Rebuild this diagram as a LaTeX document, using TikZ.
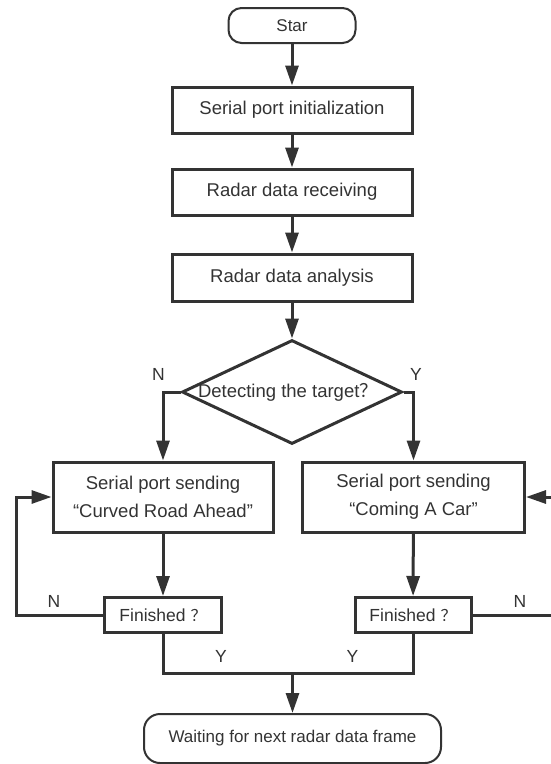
\documentclass[tikz,border=0pt]{standalone}
\usepackage{fontspec}
\setmainfont{Liberation Sans}
\newfontfamily\cjkfont{Noto Sans CJK SC}
\usetikzlibrary{shapes.geometric,arrows.meta}
\definecolor{ink}{HTML}{333333}
\begin{document}
\begin{tikzpicture}[x=1pt,y=-1pt,
  every node/.style={text=ink},
  box/.style={draw=ink, line width=3pt, rectangle, inner sep=0pt,
    font=\fontsize{18.5}{28}\selectfont, align=center},
  term/.style={draw=ink, line width=2pt, rectangle, rounded corners=13pt,
    inner sep=0pt, font=\fontsize{17}{20}\selectfont},
  dec/.style={draw=ink, line width=3pt, diamond, inner sep=0pt,
    minimum width=220pt, minimum height=104pt},
  ln/.style={draw=ink, line width=3pt},
  arr/.style={draw=ink, line width=3pt, -{Triangle[length=20pt,width=13pt]}},
  lab/.style={font=\fontsize{17.5}{20}\selectfont, inner sep=0pt}
]
\useasboundingbox (0,0) rectangle (550,764);

\node[term, minimum width=127pt, minimum height=35pt] (start) at (292,25.5) {Star};
\node[box, minimum width=240pt, minimum height=46pt] (init) at (292,110) {Serial port initialization};
\node[box, minimum width=240pt, minimum height=46pt] (recv) at (292,192) {Radar data receiving};
\node[box, minimum width=240pt, minimum height=47pt] (anal) at (292,277.5) {Radar data analysis};
\node[dec] (cond) at (292,392) {};
\node[font=\fontsize{18.5}{20}\selectfont, inner sep=0pt] (condt) at (288,392) {Detecting the target{\cjkfont ？}};
\node[box, minimum width=220pt, minimum height=70pt] (lsend) at (163,497) {Serial port sending\\“Curved Road Ahead”};
\node[box, minimum width=222pt, minimum height=70pt] (rsend) at (413.5,497) {Serial port sending\\“Coming A Car”};
\node[box, minimum width=117.5pt, minimum height=35pt, font=\fontsize{17.5}{20}\selectfont] (lfin) at (163,615) {Finished {\cjkfont\fontsize{16}{18}\selectfont ？}};
\node[box, minimum width=116pt, minimum height=35pt, font=\fontsize{17.5}{20}\selectfont] (rfin) at (413,615) {Finished {\cjkfont\fontsize{16}{18}\selectfont ？}};
\node[term, minimum width=297pt, minimum height=49pt, rounded corners=16pt] (endn) at (292.5,738.5) {Waiting for next radar data frame};

\coordinate (lloop) at (16,615);
\coordinate (rloopB) at (553,615);
\coordinate (rloopT) at (553,497);
\coordinate (mrg) at (292.5,673);

\draw[arr] (start) -- (init);
\draw[arr] (init) -- (recv);
\draw[arr] (recv) -- (anal);
\draw[arr] (anal) -- (cond);
\draw[arr] (cond.west) -| (lsend.north);
\draw[arr] (cond.east) -| (rsend.north);
\draw[arr] (lsend) -- (lfin);
\draw[arr] (rsend) -- (rfin);
\draw[arr] (lfin.west) -- (lloop) |- (lsend.west);
\draw[arr] (rfin.east) -- (rloopB) -- (rloopT) -- (rsend.east);
\draw[ln] (lfin.south) |- (mrg);
\draw[ln] (rfin.south) |- (mrg);
\draw[arr] (mrg) -- (endn);

\node[lab] (n1) at (158.5,374) {N};
\node[lab] (y1) at (416,374) {Y};
\node[lab] (n2) at (54,601) {N};
\node[lab] (n3) at (520,601) {N};
\node[lab] (y2) at (221,656) {Y};
\node[lab] (y3) at (352.5,656) {Y};
\end{tikzpicture}
\end{document}
